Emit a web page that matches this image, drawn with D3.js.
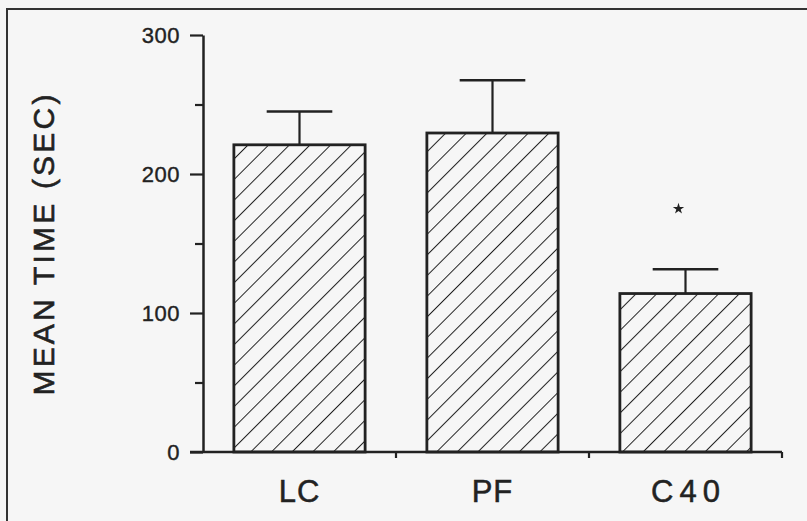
<!DOCTYPE html>
<html>
<head>
<meta charset="utf-8">
<script src="https://cdn.jsdelivr.net/npm/d3@7"></script>
<style>
  html, body { margin: 0; padding: 0; background: #f6f6f6; }
  svg { display: block; font-family: "Liberation Sans", Arial, sans-serif; }
</style>
</head>
<body>
<svg id="chart" width="807" height="521"></svg>
<script>
// data
const groups = ["LC", "PF", "C40"];
const means = [221, 229.5, 114];
const sems = [24, 38, 17.5];
const majorTicks = [0, 100, 200, 300];
const minorTicks = [50, 150, 250];
const starGroup = "C40";
const starValue = 175;

const ink = "#222";
const svg = d3.select("#chart");

// frame (right and bottom edges fall outside the picture)
svg.append("rect")
  .attr("x", 7).attr("y", 9)
  .attr("width", 820).attr("height", 530)
  .attr("fill", "none").attr("stroke", "#333").attr("stroke-width", 2);

const x = d3.scaleBand()
  .domain(groups)
  .range([203, 782])
  .paddingInner(0.32)
  .paddingOuter(0.16);

const y = d3.scaleLinear()
  .domain([0, 300])
  .range([452, 35]);

// hatch pattern
const defs = svg.append("defs");
const pat = defs.append("pattern")
  .attr("id", "hatch")
  .attr("patternUnits", "userSpaceOnUse")
  .attr("width", 14.6).attr("height", 14.6)
  .attr("patternTransform", "rotate(45)");
pat.append("line")
  .attr("x1", 0).attr("y1", 0).attr("x2", 0).attr("y2", 14.6)
  .attr("stroke", ink).attr("stroke-width", 2);

// y axis, major ticks
const yaxis = svg.append("g")
  .attr("transform", "translate(" + x.range()[0] + ",0)")
  .call(d3.axisLeft(y).tickValues(majorTicks).tickSize(13).tickSizeOuter(0).tickPadding(10));
yaxis.select(".domain").attr("stroke", ink).attr("stroke-width", 2.5);
yaxis.selectAll("line").attr("stroke", ink).attr("stroke-width", 2.2);
yaxis.selectAll("text")
  .attr("fill", ink)
  .attr("stroke", ink)
  .attr("stroke-width", 0.4)
  .style("font-size", "22px")
  .style("letter-spacing", "0.5px");

// y axis, minor ticks
svg.append("g")
  .attr("transform", "translate(" + x.range()[0] + ",0)")
  .call(d3.axisLeft(y).tickValues(minorTicks).tickSize(8).tickSizeOuter(0).tickFormat(""))
  .call(g => g.select(".domain").remove())
  .selectAll("line").attr("stroke", ink).attr("stroke-width", 2.2);

// x axis baseline, running a bit past the y axis like the 0 tick
svg.append("line")
  .attr("x1", x.range()[0] - 13).attr("x2", x.range()[1])
  .attr("y1", y(0)).attr("y2", y(0))
  .attr("stroke", ink).attr("stroke-width", 2.5);

// small down ticks at group boundaries
svg.selectAll(".bound")
  .data(groups)
  .enter()
  .append("line")
  .attr("x1", d => x(d) - x.step() * x.paddingOuter() + x.step())
  .attr("x2", d => x(d) - x.step() * x.paddingOuter() + x.step())
  .attr("y1", y(0)).attr("y2", y(0) + 6)
  .attr("stroke", ink).attr("stroke-width", 2.2);

// x labels
const xaxis = svg.append("g")
  .attr("transform", "translate(0," + y(0) + ")")
  .call(d3.axisBottom(x).tickSize(0).tickPadding(28));
xaxis.select(".domain").remove();
xaxis.selectAll("text")
  .attr("fill", ink)
  .attr("stroke", ink)
  .attr("stroke-width", 0.5)
  .style("font-size", "31px")
  .style("letter-spacing", d => d === "C40" ? "6px" : "1px")
  .attr("dx", d => d === "C40" ? "3px" : "0px");

// bars
const rows = groups.map((g, i) => ({ g: g, m: means[i], s: sems[i] }));

// error bars (drawn first so the bar outline covers the stem foot)
const err = svg.selectAll(".err").data(rows).enter().append("g");
err.append("line")
  .attr("x1", d => x(d.g) + x.bandwidth() / 2)
  .attr("x2", d => x(d.g) + x.bandwidth() / 2)
  .attr("y1", d => y(d.m)).attr("y2", d => y(d.m + d.s))
  .attr("stroke", ink).attr("stroke-width", 2.2);
err.append("line")
  .attr("x1", d => x(d.g) + x.bandwidth() / 4)
  .attr("x2", d => x(d.g) + x.bandwidth() * 3 / 4)
  .attr("y1", d => y(d.m + d.s)).attr("y2", d => y(d.m + d.s))
  .attr("stroke", ink).attr("stroke-width", 2.5);

svg.selectAll(".bar")
  .data(rows)
  .enter()
  .append("rect")
  .attr("x", d => x(d.g))
  .attr("y", d => y(d.m))
  .attr("width", x.bandwidth())
  .attr("height", d => y(0) - y(d.m))
  .attr("fill", "url(#hatch)")
  .attr("stroke", ink)
  .attr("stroke-width", 2.8);

// significance star
svg.append("path")
  .attr("d", d3.symbol(d3.symbolStar, 40))
  .attr("transform", "translate(" + (x(starGroup) + x.bandwidth() / 2 - 7) + "," + y(starValue) + ")")
  .attr("fill", ink);

// y title
svg.append("text")
  .attr("transform", "translate(54," + (y(0) + y(300)) / 2 + ") rotate(-90)")
  .attr("text-anchor", "middle")
  .attr("fill", ink)
  .attr("stroke", ink)
  .attr("stroke-width", 0.6)
  .style("font-size", "30px")
  .style("letter-spacing", "3.2px")
  .text("MEAN TIME (SEC)");
</script>
</body>
</html>
